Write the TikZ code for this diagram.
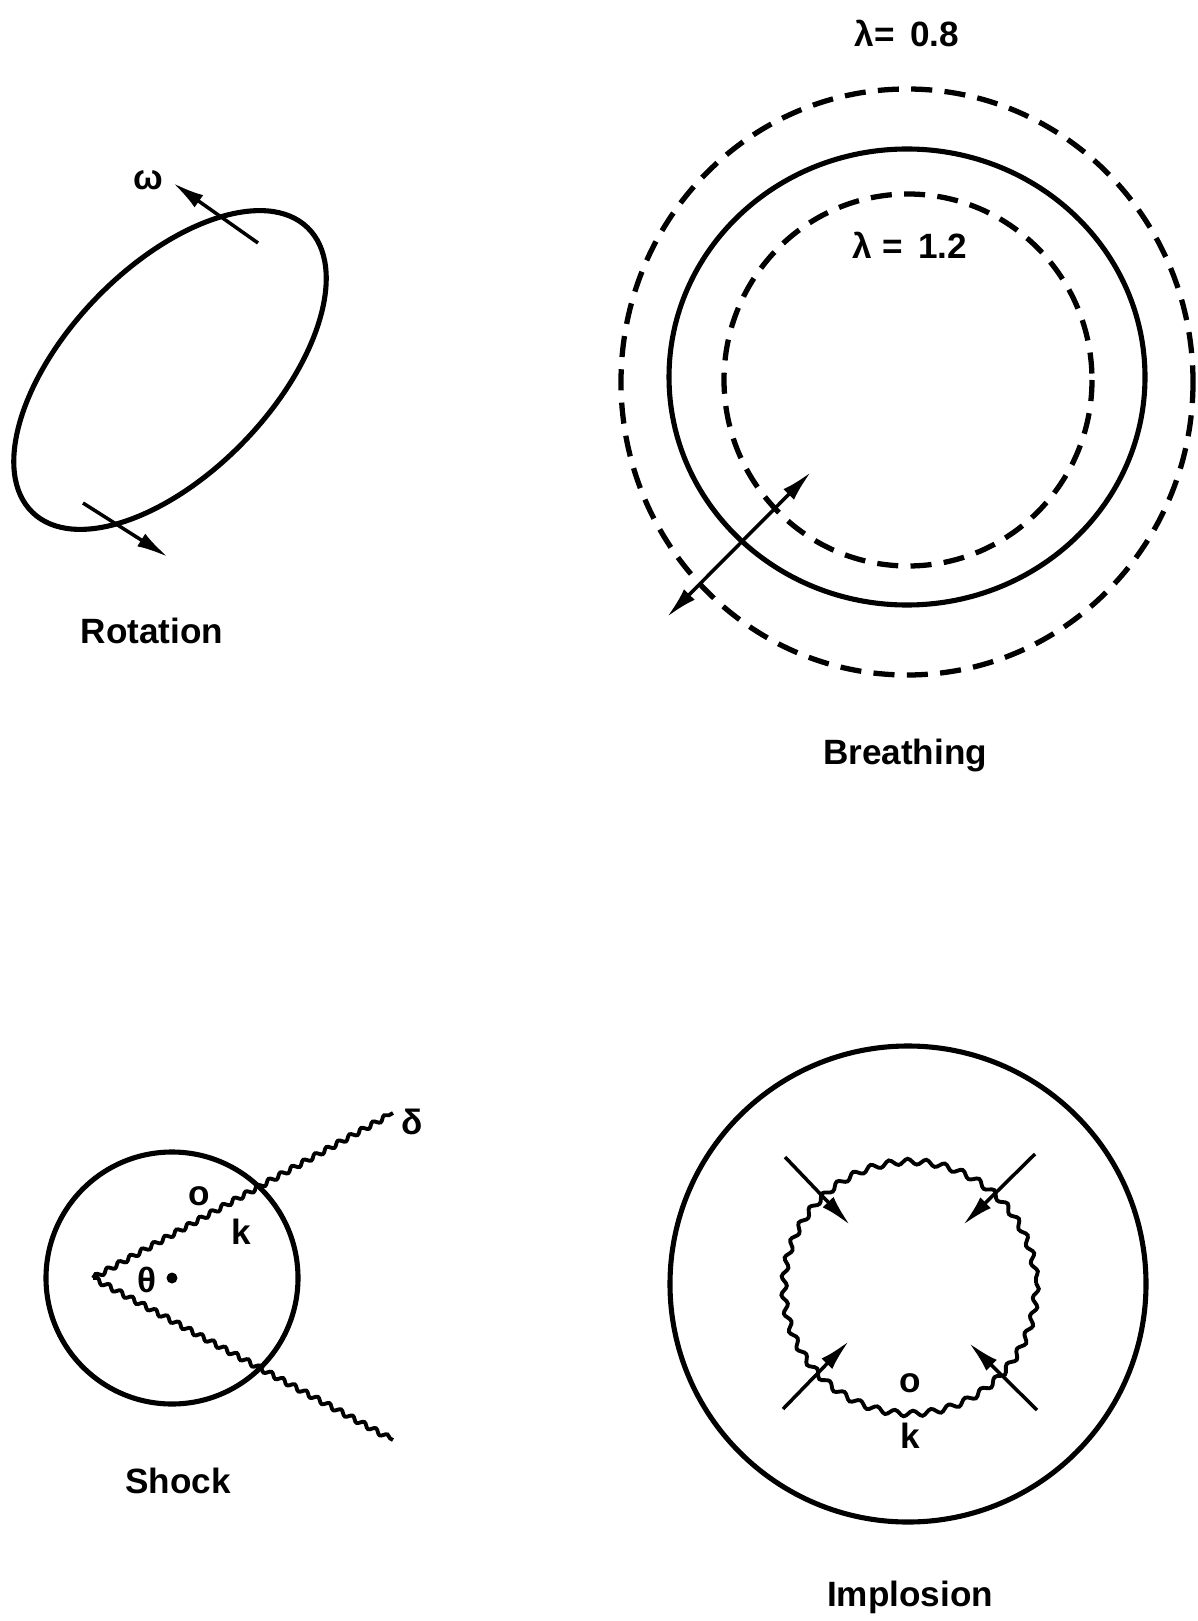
\documentclass[tikz,border=0pt]{standalone}
\usepackage{fontspec}
\setmainfont{Liberation Sans}
\usetikzlibrary{arrows.meta,decorations.pathmorphing,positioning}

\begin{document}
\begin{tikzpicture}[x=0.02cm,y=-0.02cm,
    lbl/.style={font=\fontsize{20}{24}\selectfont\bfseries,inner sep=0pt},
    outline/.style={line width=2.9pt},
    dashring/.style={line width=3pt,dash pattern=on 12pt off 7pt},
    mot/.style={line width=2pt,-{Latex[length=18pt,width=8.5pt]}},
    twomot/.style={line width=2pt,{Latex[length=18pt,width=8.5pt]}-{Latex[length=18pt,width=8.5pt]}},
    wig/.style={line width=2.2pt,decorate,decoration={snake,segment length=7.5pt,amplitude=1.3pt}},
    ripple/.style={line width=2.2pt,decorate,decoration={snake,segment length=10.5pt,amplitude=1.6pt}}]
  \useasboundingbox (0,0) rectangle (1197,1621);

  % rotation
  \coordinate (rc) at (170,370);
  \draw[outline,rotate around={46:(rc)}] (rc) ellipse [x radius=3.96cm,y radius=2.06cm];
  \coordinate (w0) at (258,243);
  \coordinate (w1) at (173,183);
  \draw[mot] (w0) -- (w1);
  \node[lbl] (omega) at (148,180) {ω};
  \coordinate (v0) at (83,503);
  \coordinate (v1) at (168,557);
  \draw[mot] (v0) -- (v1);
  \node[lbl] (rot) at (152,631) {Rotation};

  % breathing
  \draw[dashring] (907,382) ellipse [x radius=286,y radius=293];
  \draw[outline] (907,377) ellipse [x radius=238,y radius=228];
  \draw[dashring] (908,380) ellipse [x radius=184,y radius=186];
  \coordinate (b0) at (811,472);
  \coordinate (b1) at (667,617);
  \draw[twomot] (b0) -- (b1);
  \node[lbl] (lamout) at (907,33) {λ= \,0.8};
  \node[lbl] (lamin) at (910,245) {λ = \,1.2};
  \node[lbl] (breath) at (905,755) {Breathing};

  % shock
  \coordinate (sc) at (172,1278);
  \draw[outline] (sc) circle [radius=126];
  \coordinate (apex) at (93,1278);
  \coordinate (su) at (393,1113);
  \coordinate (sd) at (393,1440);
  \draw[wig] (apex) -- (su);
  \draw[wig] (apex) -- (sd);
  \fill (sc) circle [radius=5.5];
  \node[lbl] (delta) at (412,1122) {δ};
  \node[lbl] (so) at (199,1196) {o};
  \node[lbl] (sk) at (241,1232) {k};
  \node[lbl] (theta) at (147,1280) {θ};
  \node[lbl] (shock) at (178,1481) {Shock};

  % implosion
  \coordinate (ic) at (908,1284);
  \draw[outline] (ic) circle [radius=238];
  \draw[ripple] (910,1283) circle [radius=126];
  \coordinate (a1) at (785,1157);
  \coordinate (a2) at (1035,1154);
  \coordinate (a3) at (783,1409);
  \coordinate (a4) at (1037,1410);
  \draw[mot] (a1) -- (850,1225);
  \draw[mot] (a2) -- (963,1225);
  \draw[mot] (a3) -- (849,1341);
  \draw[mot] (a4) -- (969,1343);
  \node[lbl] (io) at (910,1383) {o};
  \node[lbl] (ik) at (910,1436) {k};
  \node[lbl] (impl) at (910,1597) {Implosion};
\end{tikzpicture}
\end{document}
